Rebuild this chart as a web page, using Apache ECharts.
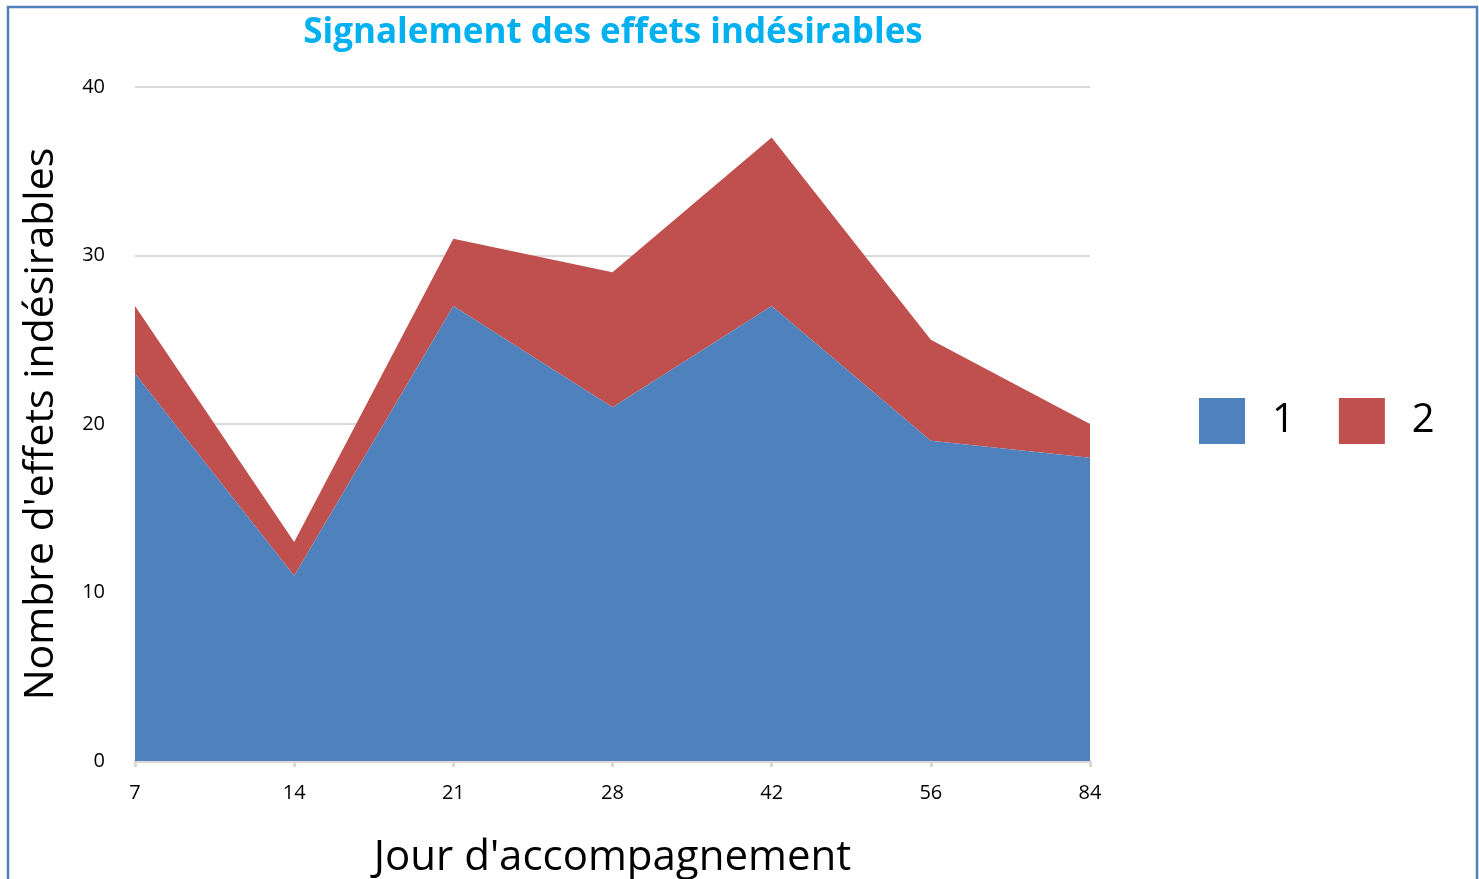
<!DOCTYPE html>
<html>
<head>
<meta charset="utf-8">
<script src="https://cdn.jsdelivr.net/npm/echarts@6/dist/echarts.min.js"></script>
<style>
  html, body { margin: 0; padding: 0; background: #fff; }
  #chart { width: 1479px; height: 879px; }
</style>
</head>
<body>
<div id="chart"></div>
<script>
// données
const jours = ['7', '14', '21', '28', '42', '56', '84'];
const serie1 = [23, 11, 27, 21, 27, 19, 18];
const serie2 = [4, 2, 4, 8, 10, 6, 2];
const yTicks = [0, 10, 20, 30, 40];

const font = '"Open Sans", "Liberation Sans", sans-serif';
const chart = echarts.init(document.getElementById('chart'));

const option = {
  animation: false,
  backgroundColor: '#fff',
  title: {
    text: 'Signalement des effets indésirables',
    left: 613,
    top: 16,
    padding: 0,
    textAlign: 'center',
    textStyle: { color: '#00B0F0', fontSize: 35, fontWeight: 'bold', fontFamily: font }
  },
  legend: {
    data: ['1', '2'],
    left: 1199,
    top: 398,
    padding: 0,
    itemWidth: 46,
    itemHeight: 46,
    itemGap: 44,
    icon: 'rect',
    textStyle: { fontSize: 40, color: '#000', fontFamily: font, padding: [0, 0, 0, 22] }
  },
  grid: { left: 135, right: 389, top: 87, bottom: 118, outerBoundsMode: 'none', containLabel: false },
  xAxis: {
    type: 'category',
    data: jours,
    boundaryGap: false,
    name: "Jour d'accompagnement",
    nameLocation: 'middle',
    nameGap: 76,
    nameTextStyle: { fontSize: 42, color: '#000', fontFamily: font },
    axisLine: { lineStyle: { color: '#D9D9D9', width: 3 } },
    axisTick: { show: true, length: 6, lineStyle: { color: '#D9D9D9', width: 3 } },
    axisLabel: { fontSize: 20, color: '#000', margin: 22, fontFamily: font },
    splitLine: { show: false }
  },
  yAxis: {
    type: 'value',
    min: yTicks[0],
    max: yTicks[yTicks.length - 1],
    interval: 10,
    name: "Nombre d'effets indésirables",
    nameLocation: 'middle',
    nameGap: 73,
    nameTextStyle: { fontSize: 41, color: '#000', fontFamily: font },
    axisLine: { show: false },
    axisTick: { show: false },
    axisLabel: { fontSize: 20, color: '#000', margin: 30, fontFamily: font },
    splitLine: { lineStyle: { color: '#D9D9D9', width: 2 } }
  },
  series: [
    {
      name: '1',
      type: 'line',
      stack: 'total',
      data: serie1,
      symbol: 'none',
      lineStyle: { width: 0 },
      areaStyle: { color: '#4F81BD', opacity: 1 },
      itemStyle: { color: '#4F81BD' },
      z: 3
    },
    {
      name: '2',
      type: 'line',
      stack: 'total',
      data: serie2,
      symbol: 'none',
      lineStyle: { width: 0 },
      areaStyle: { color: '#C0504D', opacity: 1 },
      itemStyle: { color: '#C0504D' },
      z: 2
    }
  ],
  graphic: [
    {
      type: 'rect',
      shape: { x: 8, y: 7, width: 1469, height: 900 },
      style: { fill: null, stroke: '#4F81BD', lineWidth: 2.5 },
      silent: true
    }
  ]
};

chart.setOption(option);
</script>
</body>
</html>
